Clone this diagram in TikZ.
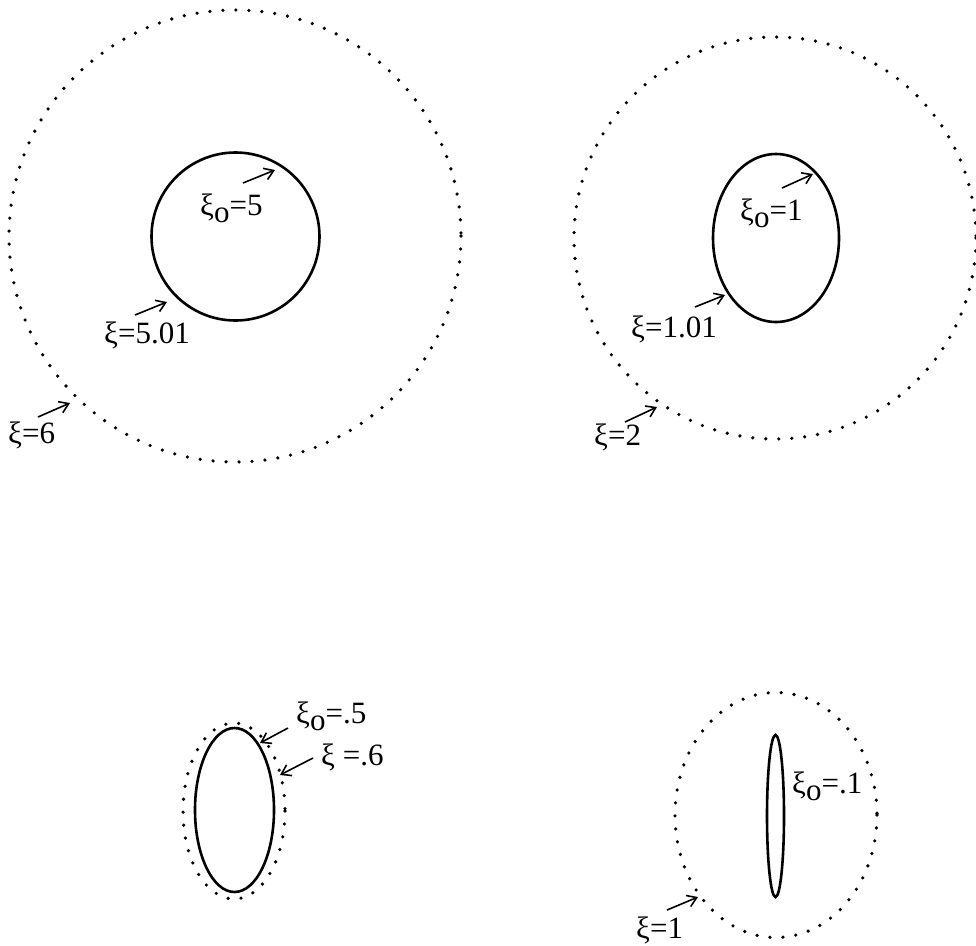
\documentclass[tikz,border=0pt]{standalone}
\usepackage{fontspec}
\setmainfont{Liberation Serif}
\usetikzlibrary{arrows.meta}
\newcommand{\xisub}{ξ\raisebox{-7pt}{o}}
\tikzset{
  dotcurve/.style={line width=3.6pt, line cap=round, dash pattern=on 0pt off 13pt},
  solidcurve/.style={line width=2.6pt},
  lbl/.style={anchor=base west, inner sep=0pt, font=\fontsize{31}{33}\selectfont},
  ptr/.style={line width=1.6pt, -{Straight Barb[length=9pt,width=12pt,line width=1.6pt]}}
}
\begin{document}
\begin{tikzpicture}[x=1pt,y=-1pt]
\useasboundingbox (0,0) rectangle (976,945);
% top-left
\draw[dotcurve] (235,236) circle[radius=226];
\draw[solidcurve] (235.5,236.5) circle[radius=84];
\node[lbl] (l1) at (200,215) {\xisub=5};
\node[lbl] (l2) at (104,343) {ξ=5.01};
\node[lbl] (l3) at (8,443) {ξ=6};
\coordinate (a1s) at (243,183); \coordinate (a1e) at (275,170);
\coordinate (a2s) at (135,315); \coordinate (a2e) at (167,302);
\coordinate (a3s) at (38,417);  \coordinate (a3e) at (70,403);
\draw[ptr] (a1s) -- (a1e);
\draw[ptr] (a2s) -- (a2e);
\draw[ptr] (a3s) -- (a3e);
% top-right
\draw[dotcurve] (775,238) circle[radius=201];
\draw[solidcurve] (776,238) ellipse[x radius=63, y radius=84];
\node[lbl] (l4) at (740,220) {\xisub=1};
\node[lbl] (l5) at (631,337) {ξ=1.01};
\node[lbl] (l6) at (594,445) {ξ=2};
\coordinate (a4s) at (782,188); \coordinate (a4e) at (813,174);
\coordinate (a5s) at (695,307); \coordinate (a5e) at (725,295);
\coordinate (a6s) at (625,422); \coordinate (a6e) at (657,407);
\draw[ptr] (a4s) -- (a4e);
\draw[ptr] (a5s) -- (a5e);
\draw[ptr] (a6s) -- (a6e);
% bottom-left
\draw[dotcurve] (234,811) ellipse[x radius=51, y radius=88];
\draw[solidcurve] (234.5,810) ellipse[x radius=39.5, y radius=82];
\node[lbl] (l7) at (296,723) {\xisub=.5};
\node[lbl] (l8) at (321,765) {ξ =.6};
\coordinate (a7s) at (288,728); \coordinate (a7e) at (260,743);
\coordinate (a8s) at (313,758); \coordinate (a8e) at (280,775);
\draw[ptr] (a7s) -- (a7e);
\draw[ptr] (a8s) -- (a8e);
% bottom-right
\draw[dotcurve] (776,815) ellipse[x radius=101, y radius=122.5];
\draw[solidcurve] (775.5,816) ellipse[x radius=8.5, y radius=81];
\node[lbl] (l9) at (792,793) {\xisub=.1};
\node[lbl] (l10) at (636,938) {ξ=1};
\coordinate (a9s) at (667,910); \coordinate (a9e) at (698,897);
\draw[ptr] (a9s) -- (a9e);
\end{tikzpicture}
\end{document}
